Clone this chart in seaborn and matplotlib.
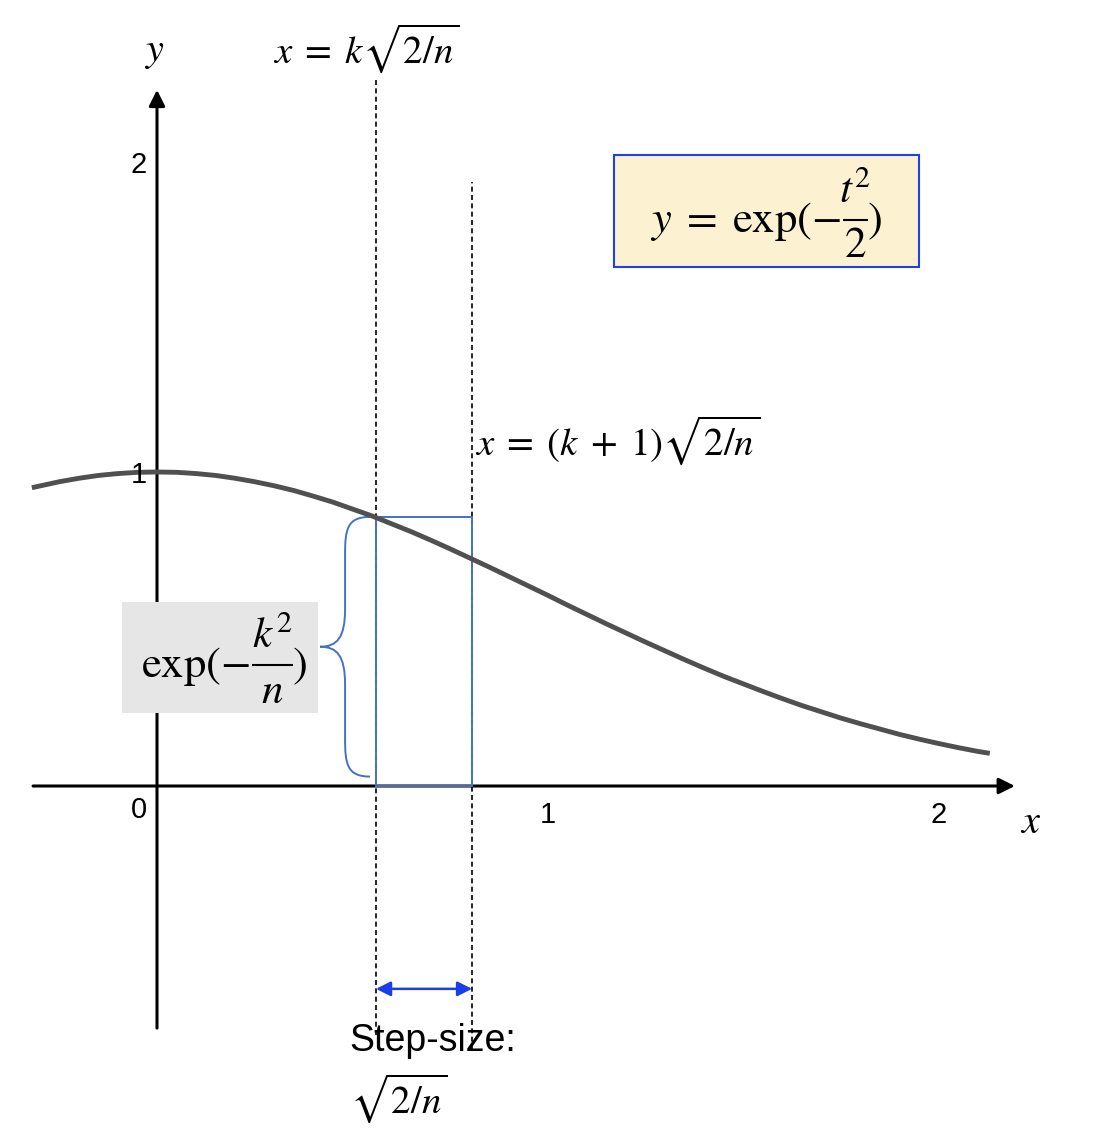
import numpy as np
import pandas as pd
import matplotlib
matplotlib.use('Agg')
import matplotlib.pyplot as plt
import seaborn as sns
from matplotlib.patches import Rectangle, PathPatch
from matplotlib.path import Path

# curve values: y = exp(-t^2/2)
curve_x = [-0.32, -0.25, -0.2, -0.15, -0.1, -0.05, 0.0, 0.05, 0.1, 0.15, 0.2, 0.25,
           0.3, 0.35, 0.4, 0.45, 0.5, 0.55, 0.6, 0.65, 0.7, 0.75, 0.8, 0.85, 0.9,
           0.95, 1.0, 1.05, 1.1, 1.15, 1.2, 1.25, 1.3, 1.35, 1.4, 1.45, 1.5, 1.55,
           1.6, 1.65, 1.7, 1.75, 1.8, 1.85, 1.9, 1.95, 2.0, 2.05, 2.1, 2.13]
curve_y = [0.950, 0.969, 0.980, 0.989, 0.995, 0.999, 1.000, 0.999, 0.995, 0.989, 0.980,
           0.969, 0.956, 0.941, 0.923, 0.904, 0.882, 0.860, 0.835, 0.810, 0.783, 0.755,
           0.726, 0.697, 0.667, 0.637, 0.607, 0.576, 0.546, 0.516, 0.487, 0.458, 0.430,
           0.402, 0.375, 0.349, 0.325, 0.301, 0.278, 0.256, 0.236, 0.216, 0.198, 0.181,
           0.164, 0.149, 0.135, 0.122, 0.110, 0.104]

x_ticks = [1, 2]
y_ticks = [0, 1, 2]
x_k = 0.56      # k*sqrt(2/n)
x_k1 = 0.806    # (k+1)*sqrt(2/n)
h_k = 0.857     # exp(-k^2/n)

sns.set_style("white")
plt.rcParams['mathtext.fontset'] = 'stix'
plt.rcParams['font.family'] = ['Liberation Sans', 'DejaVu Sans']
plt.rcParams['text.color'] = 'black'

W, H = 1114, 1146
fig = plt.figure(figsize=(W / 100, H / 100), dpi=100)
ax = fig.add_axes([0, 0, 1, 1])
# pixel origin (157, 786), 391 px per x unit, 314 px per y unit
ax.set_xlim((0 - 157) / 391, (W - 157) / 391)
ax.set_ylim((786 - H) / 314, 786 / 314)
ax.axis('off')

# axes arrows
ax.annotate('', xy=(2.194, 0), xytext=(-0.317, 0),
            arrowprops=dict(arrowstyle='-|>', lw=2.2, color='black', mutation_scale=24,
                            shrinkA=0, shrinkB=0))
ax.annotate('', xy=(0, 2.217), xytext=(0, -0.771),
            arrowprops=dict(arrowstyle='-|>', lw=2.2, color='black', mutation_scale=24,
                            shrinkA=0, shrinkB=0))

# curve
df = pd.DataFrame({'x': curve_x, 'y': curve_y})
sns.lineplot(data=df, x='x', y='y', ax=ax, color='#505050', lw=3.5, zorder=4,
             solid_joinstyle='round', solid_capstyle='butt')

# tick labels
for t in x_ticks:
    ax.text(t, -0.118, str(t), ha='center', va='baseline', fontsize=21)
ytick_base = {0: -0.102, 1: 0.965, 2: 1.952}
for t in y_ticks:
    ax.text(-0.046, ytick_base[t], str(t), ha='center', va='baseline', fontsize=21, zorder=5)

ax.text(-0.005, 2.338, '$y$', ha='center', va='center', fontsize=29)
ax.text(2.233, -0.115, '$x$', ha='center', va='center', fontsize=29)

# dashed guides
ax.plot([x_k, x_k], [-0.793, 2.248], color='black', lw=1.2, ls=(0, (3, 2)), zorder=3)
ax.plot([x_k1, x_k1], [-0.841, 1.924], color='black', lw=1.2, ls=(0, (3, 2)), zorder=3)

# blue rectangle
ax.add_patch(Rectangle((x_k, 0), x_k1 - x_k, h_k, fill=False, ec='#4472c4', lw=1.4, zorder=3))

# brace
top, bot = h_k, 0.03
mid = (top + bot) / 2
xe, xs, xt = x_k - 0.015, 0.481, 0.417
verts = [(xe, top), (xs + 0.005, top), (xs, top - 0.04), (xs, top - 0.12),
         (xs, mid + 0.12), (xs, mid + 0.03), (xs - 0.02, mid), (xt, mid),
         (xs - 0.02, mid), (xs, mid - 0.03), (xs, mid - 0.12),
         (xs, bot + 0.12), (xs, bot + 0.04), (xs + 0.005, bot), (xe, bot)]
codes = [Path.MOVETO, Path.CURVE4, Path.CURVE4, Path.CURVE4,
         Path.LINETO, Path.CURVE4, Path.CURVE4, Path.CURVE4,
         Path.CURVE4, Path.CURVE4, Path.CURVE4,
         Path.LINETO, Path.CURVE4, Path.CURVE4, Path.CURVE4]
ax.add_patch(PathPatch(Path(verts, codes), fill=False, ec='#4472c4', lw=1.4, zorder=3))


def fraction_label(left, num, den, x_bar0, x_bar1, y_base, y_bar, y_num, y_den, fs=32):
    ax.text(x_bar0 - 0.005, y_base, left, ha='right', va='baseline', fontsize=fs, zorder=7)
    xc = (x_bar0 + x_bar1) / 2
    ax.text(xc, y_num, num, ha='center', va='baseline', fontsize=fs - 1, zorder=7)
    ax.text(xc, y_den, den, ha='center', va='baseline', fontsize=fs - 1, zorder=7)
    ax.plot([x_bar0, x_bar1], [y_bar, y_bar], color='black', lw=1.5, zorder=7,
            solid_capstyle='butt')
    ax.text(x_bar1 - 0.002, y_base, r'$)$', ha='left', va='baseline', fontsize=fs, zorder=7)


# gray label box
ax.add_patch(Rectangle((-0.0895, 0.2325), 0.5015, 0.3535, fc='#e6e6e6', ec='none', zorder=6))
fraction_label(r'$\exp(-$', r'$k^2$', r'$n$', 0.243, 0.348, 0.347, 0.385, 0.439, 0.264)

# yellow formula box
ax.add_patch(Rectangle((1.169, 1.653), 0.780, 0.357, fc='#fcf2d2', ec='#2040f0', lw=1.5, zorder=6))
fraction_label(r'$y\;=\;\exp(-$', r'$t^2$', r'$2$', 1.754, 1.818, 1.764, 1.803, 1.857, 1.685)

# line labels
ax.text(0.535, 2.350, r'$x\;=\;k\sqrt{2/n}$', ha='center', va='center', fontsize=28)
ax.text(0.813, 1.102, r'$x\;=\;(k\;+\;1)\sqrt{2/n}$', ha='left', va='center', fontsize=28)

# step size arrow
ax.annotate('', xy=(x_k1, -0.646), xytext=(x_k, -0.646),
            arrowprops=dict(arrowstyle='<|-|>', lw=1.8, color='#1a3ee8', mutation_scale=22,
                            shrinkA=0, shrinkB=0))
ax.text(0.491, -0.812, 'Step-size:', ha='left', va='center', fontsize=27, zorder=5)
ax.text(0.494, -0.994, r'$\sqrt{2/n}$', ha='left', va='center', fontsize=28)

plt.savefig('out.png', dpi=100)
plt.close()
